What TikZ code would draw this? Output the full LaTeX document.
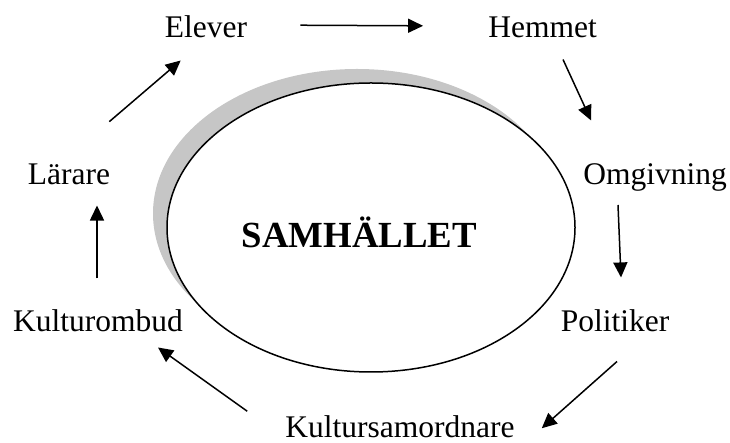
\documentclass[tikz,border=0pt]{standalone}
\usepackage{fontspec}
\setmainfont{Liberation Serif}
\usetikzlibrary{arrows.meta}
\newcommand{\ArrTip}{Triangle[length=15,width=14]}
\tikzset{arr/.style={line width=1.5pt,-{\ArrTip}}}
\tikzset{lbl/.style={inner sep=0pt,anchor=base,font=\fontsize{31.5}{36}\selectfont}}
\begin{document}
\begin{tikzpicture}[x=1pt,y=1pt]
\useasboundingbox(0,0)rectangle(730,443);
\fill[gray!45](357,229.5)ellipse[x radius=204,y radius=144.5];
\draw[line width=1.5pt,fill=white](371,215.5)ellipse[x radius=204,y radius=144.5];
\begin{scope}[lbl]
\node(elv)at(206,405){Elever};\node(hem)at(542.5,405){Hemmet};
\node(lar)at(69,258){Lärare};\node(omg)at(655,258){Omgivning};
\node(komb)at(98,111){Kulturombud};\node(pol)at(615,111){Politiker};
\node(ksam)at(400,5){Kultursamordnare};
\end{scope}
\node(sam)[lbl,font=\fontsize{36.8}{40}\selectfont\bfseries]at(359.5,195){SAMHÄLLET};
\draw[arr]([shift={(53,2)}]elv.east)--([shift={(-65,2)}]hem.west);
\draw[arr]([shift={(20.5,-21)}]hem.south)--([shift={(8,43.5)}]omg.north west);
\draw[arr]([shift={(-37,-13)}]omg.south)--([shift={(6,32.5)}]pol.north);
\draw[arr]([shift={(2,-29)}]pol.south)--([shift={(27,-1)}]ksam.east);
\draw[arr]([shift={(-38,16)}]ksam.west)--([shift={(60,-15)}]komb.south);
\draw[arr]([shift={(-1,31.5)}]komb.north)--([shift={(28,-20)}]lar.south);
\draw[arr]([shift={(-1,42.5)}]lar.north east)--([shift={(16,-22)}]elv.south west);
\end{tikzpicture}
\end{document}
